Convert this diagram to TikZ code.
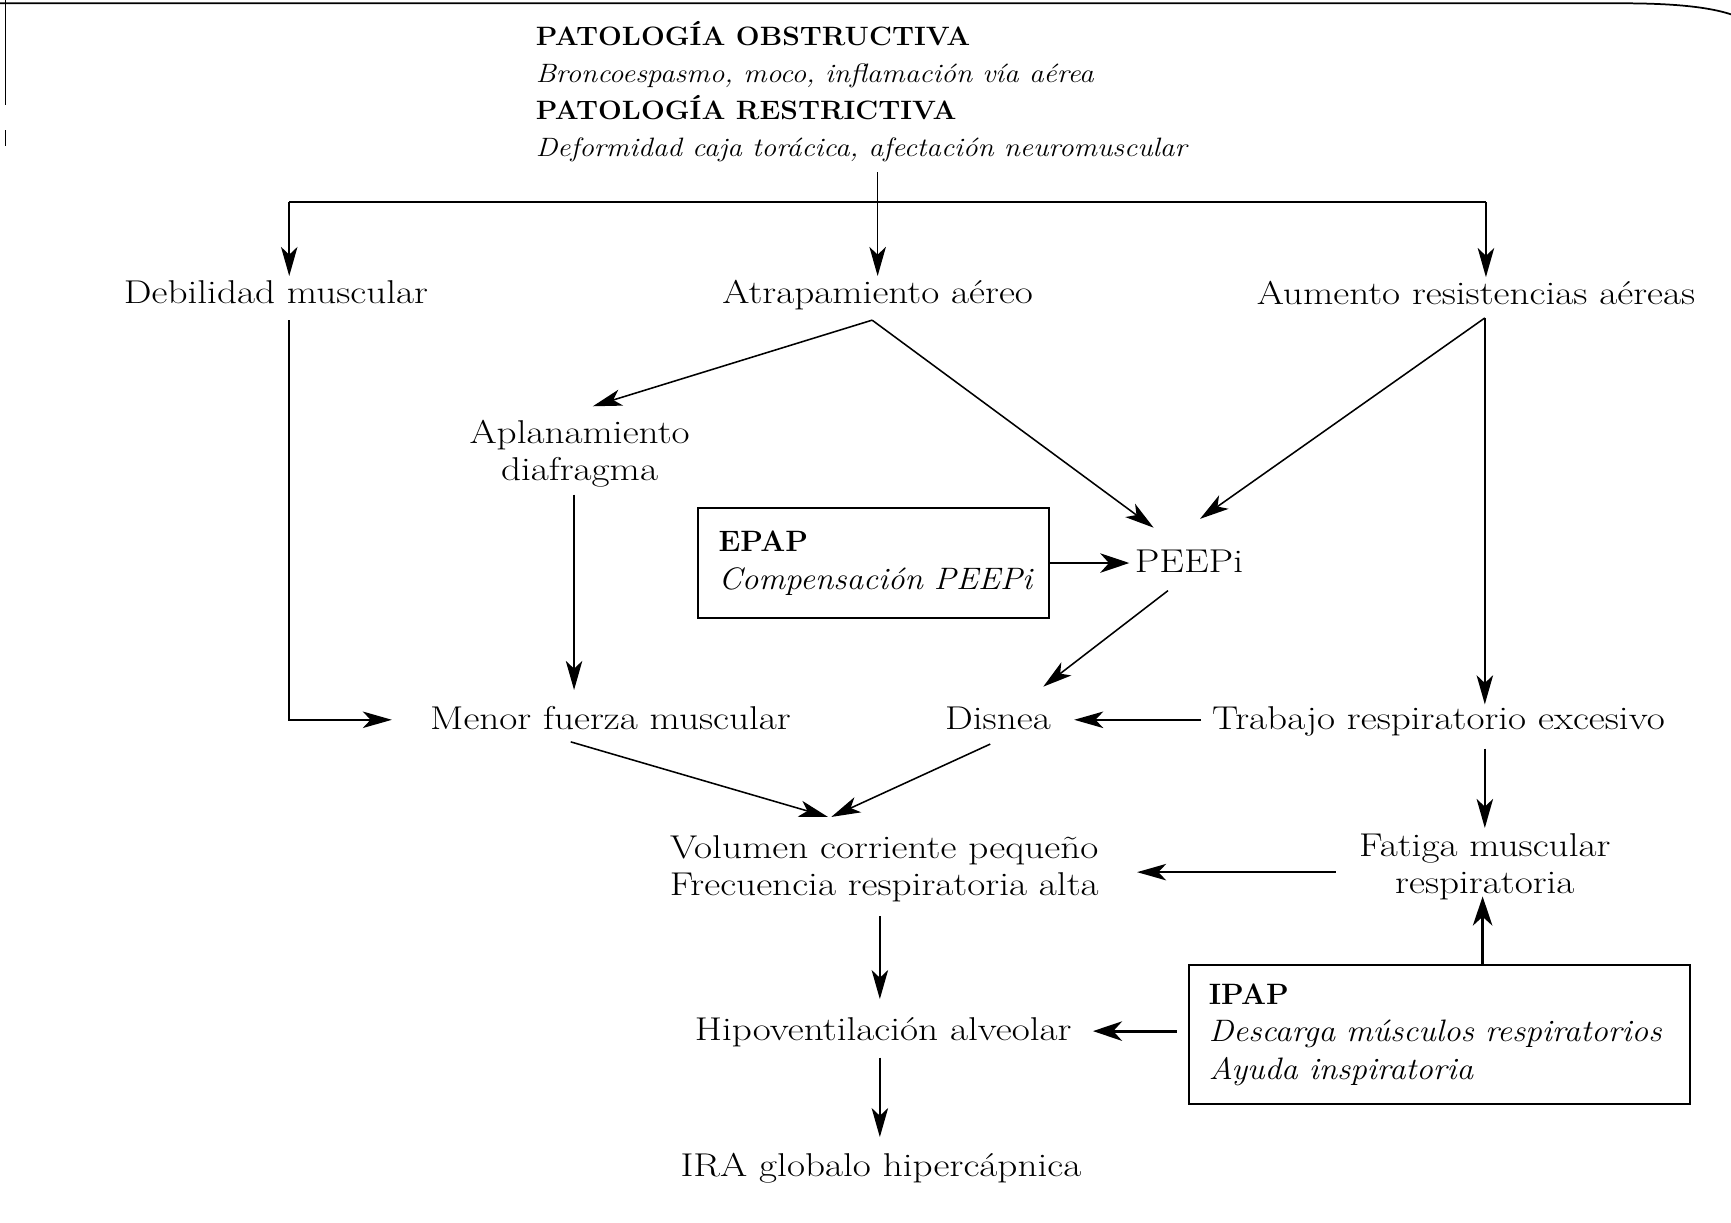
\documentclass[tikz,border=0pt]{standalone}
\usetikzlibrary{arrows.meta,calc}
\newcommand\Rm[1]{\scalebox{1.19}[1]{#1}}
\newcommand\Ti[1]{\scalebox{1.1}[1]{\itshape #1}}
\newcommand\Tb[1]{\scalebox{1.06}[1]{\bfseries #1}}
\newcommand\Bi[1]{\scalebox{1.07}[1]{\itshape #1}}
\newcommand\Bb[1]{\scalebox{1.0}[1]{\fontsize{15.2}{19.3}\selectfont\bfseries #1}}
\begin{document}
\begin{tikzpicture}[x=0.02cm,y=-0.02cm,
 body/.style={font=\fontsize{17}{18.8}\selectfont, inner sep=0pt, align=center},
 single/.style={body, text height=1.0em, text depth=0pt},
 box/.style={draw, line width=1.1pt, inner sep=0pt, align=left, font=\fontsize{16}{19.3}\selectfont},
 arr/.style={line width=0.8pt, -{Stealth[length=15pt,width=8.5pt,inset=4pt]}},
 tarr/.style={line width=1.5pt, -{Stealth[length=15pt,width=10pt,inset=4.5pt]}},
 conn/.style={line width=0.8pt},
 frame/.style={line width=0.9pt}]

\useasboundingbox (0,0) rectangle (1568,1107);
\draw[frame] (0,3) -- (1470,3) .. controls (1520,3) and (1550,7) .. (1568,13);
\draw[frame] (5,0) -- (5,95);
\draw[frame] (5,118) -- (5,132);

\node[body, align=left, anchor=north west, font=\fontsize{13.7}{19.1}\selectfont] (title) at (485,19)
 {\Tb{PATOLOGÍA OBSTRUCTIVA}\\ \Ti{Broncoespasmo, moco, inflamación vía aérea}\\ \Tb{PATOLOGÍA RESTRICTIVA}\\ \Ti{Deformidad caja torácica, afectación neuromuscular}};

\node[single] (deb) at (250,266) {\Rm{Debilidad muscular}};
\node[single] (atrap) at (795,266) {\Rm{Atrapamiento aéreo}};
\node[single] (aum) at (1337,267) {\Rm{Aumento resistencias aéreas}};
\node[body] (aplan) at (525,411) {\Rm{Aplanamiento}\\\Rm{diafragma}};
\node[box, minimum width=6.36cm, minimum height=2cm, text width=5.6cm] (epap) at (791,510) {\Bb{EPAP}\\\Bi{Compensación PEEPi}};
\node[single] (peepi) at (1077,510) {\Rm{PEEPi}};
\node[single] (menor) at (553,652) {\Rm{Menor fuerza muscular}};
\node[single] (disnea) at (904,652) {\Rm{Disnea}};
\node[single] (trab) at (1303,652) {\Rm{Trabajo respiratorio excesivo}};
\node[body] (vol) at (801,787) {\Rm{Volumen corriente pequeño}\\\Rm{Frecuencia respiratoria alta}};
\node[body] (fatiga) at (1345,785) {\Rm{Fatiga muscular}\\\Rm{respiratoria}};
\node[single] (hipo) at (800,934) {\Rm{Hipoventilación alveolar}};
\node[box, minimum width=9.08cm, minimum height=2.52cm, text width=8.36cm] (ipap) at (1304,937) {\Bb{IPAP}\\\Bi{Descarga músculos respiratorios}\\\Bi{Ayuda inspiratoria}};
\node[single] (ira) at (798,1057) {\Rm{IRA globalo hipercápnica}};

\draw[arr] ($(title.south -| atrap)+(0,9)$) -- ($(atrap)+(0,-16)$);
\coordinate (cl) at ($(deb)+(12,-83)$);
\coordinate (cr) at ($(aum)+(9,-84)$);
\draw[conn] (cl) -- (cr);
\draw[arr] (cl) -- ($(deb)+(12,-16)$);
\draw[arr] (cr) -- ($(aum)+(9,-16)$);
\draw[arr] ($(atrap)+(-5,24)$) -- ($(aplan)+(12,-43)$);
\draw[arr] ($(atrap)+(-5,24)$) -- ($(peepi)+(-32,-32)$);
\draw[arr] ($(aum)+(8,21)$) -- ($(peepi)+(10,-40)$);
\draw[arr] ($(aum)+(8,21)$) -- ($(trab)+(42,-14)$);
\draw[arr] ($(aplan)+(-5,37)$) -- ($(menor)+(-33,-27)$);
\draw[arr] ($(deb)+(12,24)$) |- ($(menor)+(-198,0)$);
\draw[tarr] (epap.east) -- ($(peepi)+(-54,0)$);
\draw[arr] ($(peepi)+(-19,25)$) -- ($(disnea)+(41,-30)$);
\draw[arr] ($(trab)+(-215,0)$) -- ($(disnea)+(69,0)$);
\draw[arr] ($(menor)+(-36,20)$) -- ($(vol)+(-51,-47)$);
\draw[arr] ($(disnea)+(-7,22)$) -- ($(vol)+(-48,-47)$);
\draw[arr] ($(trab)+(42,26)$) -- ($(fatiga)+(0,-35)$);
\draw[arr] ($(fatiga)+(-135,5)$) -- ($(vol)+(229,3)$);
\draw[arr] ($(vol)+(-4,43)$) -- ($(hipo)+(-3,-29)$);
\draw[arr] ($(hipo)+(-3,24)$) -- ($(ira)+(-1,-27)$);
\draw[tarr] ($(fatiga |- ipap.north)+(-2,0)$) -- ($(fatiga)+(-2,27)$);
\draw[tarr] ($(ipap.west)+(-10,-3)$) -- ($(hipo)+(190,0)$);
\end{tikzpicture}
\end{document}
